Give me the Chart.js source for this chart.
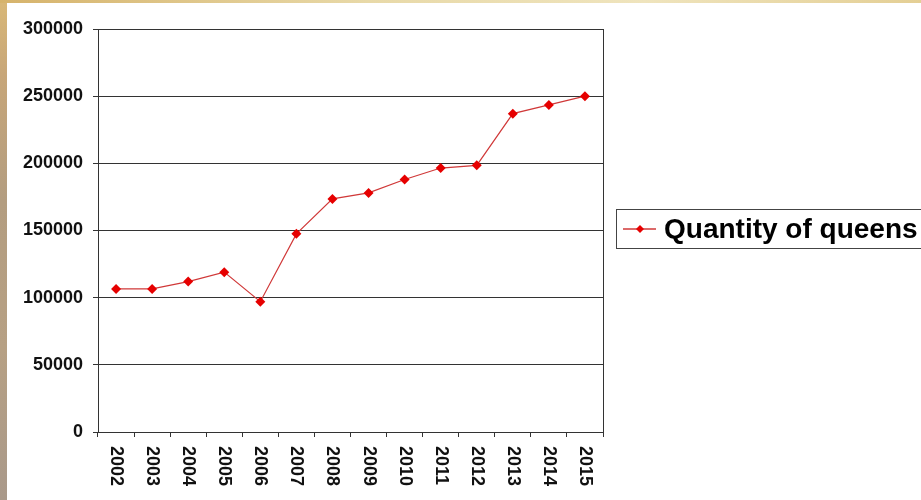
<!DOCTYPE html>
<html>
<head>
<meta charset="utf-8">
<script src="https://cdn.jsdelivr.net/npm/chart.js@4"></script>
<style>
  html, body { margin: 0; padding: 0; background: #fff; }
  #wrap { position: relative; width: 921px; height: 500px; overflow: hidden; background: #fff; }
  #edgeLeft { position: absolute; left: 0; top: 0; width: 7px; height: 500px;
              background: linear-gradient(to bottom, #d9b877 0%, #c7a679 15%, #b39d80 40%, #b6a084 70%, #a9998a 100%); }
  #edgeTop { position: absolute; left: 0; top: 0; width: 921px; height: 3px;
             background: linear-gradient(to right, #d6b36b 0%, #e8d9a8 40%, #efe4bd 70%, #e4cf95 100%); }
  canvas { position: absolute; left: 0; top: 0; }
</style>
</head>
<body>
<div id="wrap">
  <canvas id="chart" width="921" height="500"></canvas>
  <div id="edgeLeft"></div>
  <div id="edgeTop"></div>
</div>
<script>
// ── Data ──────────────────────────────────────────────────────────────────────
const years   = ['2002', '2003', '2004', '2005', '2006', '2007', '2008',
                 '2009', '2010', '2011', '2012', '2013', '2014', '2015'];
const queens  = [106500, 106500, 112000, 119000, 97000, 147500, 173500,
                 178000, 188000, 196500, 198500, 237000, 243500, 250000];
const yTicks  = [0, 50000, 100000, 150000, 200000, 250000, 300000];
const seriesName = 'Quantity of queens';

const AXIS = '#333';
const FONT = "'Liberation Sans', Arial, sans-serif";

// ── Plugins ───────────────────────────────────────────────────────────────────

// x labels read top-to-bottom (rotated clockwise), so draw them by hand
const yearLabels = {
    id: 'yearLabels',
    afterDraw(chart) {
        const { ctx, scales: { x }, chartArea } = chart;
        ctx.save();
        ctx.fillStyle = '#111';
        ctx.font = `bold 18px ${FONT}`;
        ctx.textAlign = 'left';
        ctx.textBaseline = 'middle';
        years.forEach((yr, i) => {
            ctx.save();
            ctx.translate(x.getPixelForValue(i), chartArea.bottom + 14);
            ctx.rotate(Math.PI / 2);
            ctx.fillText(yr, 0, 0);
            ctx.restore();
        });
        ctx.restore();
    }
};

// right side of the plot frame
const frame = {
    id: 'frame',
    afterDatasetsDraw(chart) {
        const { ctx, chartArea: a } = chart;
        ctx.save();
        ctx.strokeStyle = AXIS;
        ctx.lineWidth = 1;
        ctx.beginPath();
        ctx.moveTo(Math.round(a.right) + 0.5, a.top);
        ctx.lineTo(Math.round(a.right) + 0.5, a.bottom);
        ctx.stroke();
        ctx.restore();
    }
};

// boxed legend, cut off by the right edge like the original
const boxLegend = {
    id: 'boxLegend',
    afterDraw(chart) {
        const { ctx } = chart;
        const ds = chart.data.datasets[0];
        ctx.save();
        ctx.strokeStyle = '#444';
        ctx.lineWidth = 1;
        ctx.strokeRect(616.5, 209.5, 340, 39);

        ctx.strokeStyle = ds.borderColor;
        ctx.lineWidth = 1.5;
        ctx.beginPath();
        ctx.moveTo(623, 229);
        ctx.lineTo(656, 229);
        ctx.stroke();

        ctx.fillStyle = ds.pointBackgroundColor;
        ctx.beginPath();
        ctx.moveTo(640, 225);
        ctx.lineTo(644, 229);
        ctx.lineTo(640, 233);
        ctx.lineTo(636, 229);
        ctx.closePath();
        ctx.fill();

        ctx.fillStyle = '#000';
        ctx.font = `bold 28px ${FONT}`;
        ctx.textAlign = 'left';
        ctx.textBaseline = 'middle';
        ctx.fillText(ds.label, 664, 230);
        ctx.restore();
    }
};

// ── Chart ─────────────────────────────────────────────────────────────────────

new Chart(document.getElementById('chart').getContext('2d'), {
    type: 'line',
    data: {
        labels: years,
        datasets: [{
            label: seriesName,
            data: queens,
            borderColor: '#d03838',
            borderWidth: 1.2,
            pointStyle: 'rectRot',
            pointRadius: 5,
            pointBackgroundColor: '#e60000',
            pointBorderColor: '#e60000',
            pointBorderWidth: 0,
            tension: 0
        }]
    },
    options: {
        responsive: false,
        animation: false,
        layout: { padding: { left: 0, top: 29, right: 318, bottom: 0 } },
        plugins: { legend: { display: false }, tooltip: { enabled: false } },
        scales: {
            x: {
                type: 'category',
                offset: true,
                afterFit: s => { s.height = 68; },
                grid: { offset: true, drawOnChartArea: false, drawTicks: true,
                        tickLength: 5, color: AXIS, lineWidth: 1 },
                border: { display: true, color: AXIS, width: 1 },
                ticks: { display: false }
            },
            y: {
                min: 0,
                max: 300000,
                afterFit: s => { s.width = 98; },
                afterBuildTicks: s => { s.ticks = yTicks.map(v => ({ value: v })); },
                grid: { color: AXIS, lineWidth: 1, drawTicks: true, tickLength: 5 },
                border: { display: true, color: AXIS, width: 1 },
                ticks: {
                    padding: 10,
                    color: '#111',
                    font: { family: FONT, size: 18, weight: 'bold' },
                    callback: v => String(v)
                }
            }
        }
    },
    plugins: [yearLabels, frame, boxLegend]
});
</script>
</body>
</html>
